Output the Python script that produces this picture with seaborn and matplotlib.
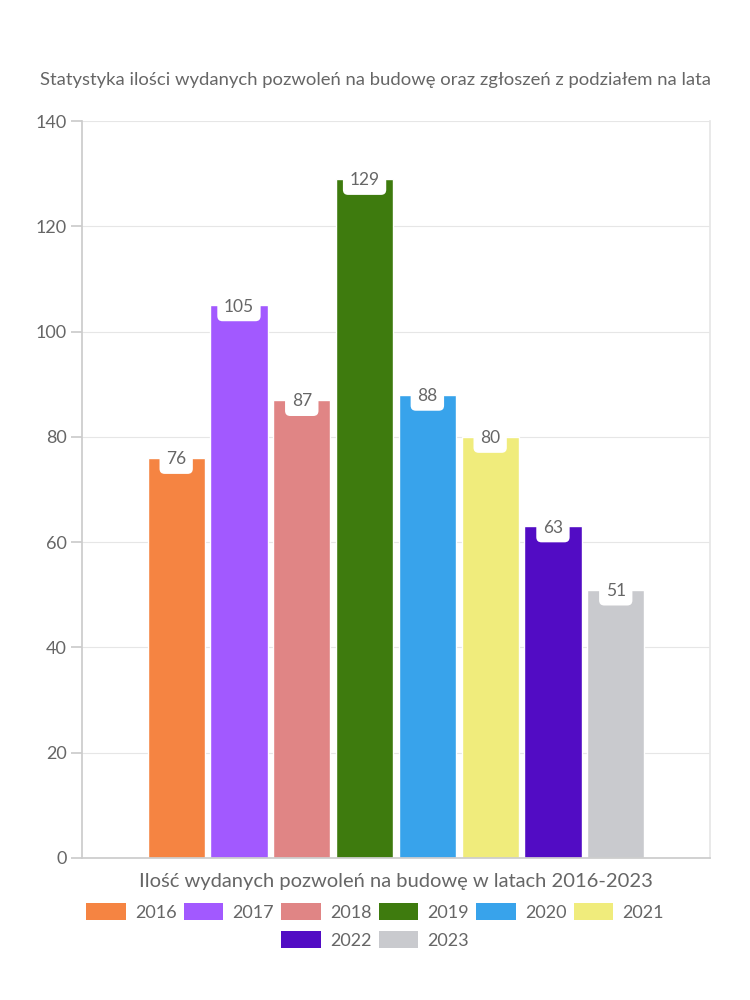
import matplotlib
matplotlib.use("Agg")
import matplotlib.pyplot as plt
import seaborn as sns
import pandas as pd
from matplotlib.patches import Patch

years = ["2016", "2017", "2018", "2019", "2020", "2021", "2022", "2023"]
values = [76, 105, 87, 129, 88, 80, 63, 51]
colors = ["#F58442", "#A259FF", "#E08585", "#3E7B0E", "#38A3EB", "#F0EC7C", "#520CC4", "#C9CACE"]
category = "Ilość wydanych pozwoleń na budowę w latach 2016-2023"
title = "Statystyka ilości wydanych pozwoleń na budowę oraz zgłoszeń z podziałem na lata"
yticks = [0, 20, 40, 60, 80, 100, 120, 140]

sns.set_theme(style="white")
plt.rcParams["font.family"] = ["Lato", "DejaVu Sans"]
txt = "#666666"

df = pd.DataFrame({"cat": [category] * len(years), "year": years, "value": values})

fig = plt.figure(figsize=(7.5, 10), dpi=100)
ax = fig.add_axes([0.1093, 0.142, 0.8373, 0.737])
sns.barplot(data=df, x="cat", y="value", hue="year", palette=colors,
            width=0.8, gap=0.09, ax=ax, legend=False, saturation=1)

ax.set_ylim(0, 140)
ax.set_xlim(-0.5, 0.5)
ax.set_yticks(yticks)
ax.set_yticklabels([str(t) for t in yticks], fontsize=13, color=txt)
ax.set_xticks([])
ax.set_xlabel(category, fontsize=14.5, color=txt, labelpad=11)
ax.set_ylabel("")
ax.grid(axis="y", color="#e6e6e6", linewidth=0.8)
ax.set_axisbelow(True)
for s in ["left", "bottom"]:
    ax.spines[s].set_color("#cccccc")
ax.spines["right"].set_color("#e6e6e6")
ax.spines["top"].set_visible(False)
ax.tick_params(axis="y", length=8, color="#cccccc", pad=3, left=True)

for p, v in zip(ax.patches, values):
    cx = p.get_x() + p.get_width() / 2
    ax.annotate(str(v), (cx, v), xytext=(0, -1), textcoords="offset points",
                ha="center", va="center", fontsize=12.5, color=txt,
                bbox=dict(boxstyle="round,pad=0.38,rounding_size=0.3", fc="white", ec="none"))

fig.text(0.5, 0.92, title, ha="center", va="center", fontsize=13.3, color=txt)

handles = [Patch(facecolor=c, edgecolor="none") for c in colors]
kw = dict(frameon=False, fontsize=13, handlelength=2.2, handleheight=1.0,
          columnspacing=0.4, handletextpad=0.5, labelcolor=txt, loc="center")
leg1 = fig.legend(handles[:6], years[:6], bbox_to_anchor=(0.5, 0.088), ncol=6, **kw)
leg2 = fig.legend(handles[6:], years[6:], bbox_to_anchor=(0.5, 0.06), ncol=2, **kw)

fig.savefig("out.png", dpi=100, facecolor="white")
